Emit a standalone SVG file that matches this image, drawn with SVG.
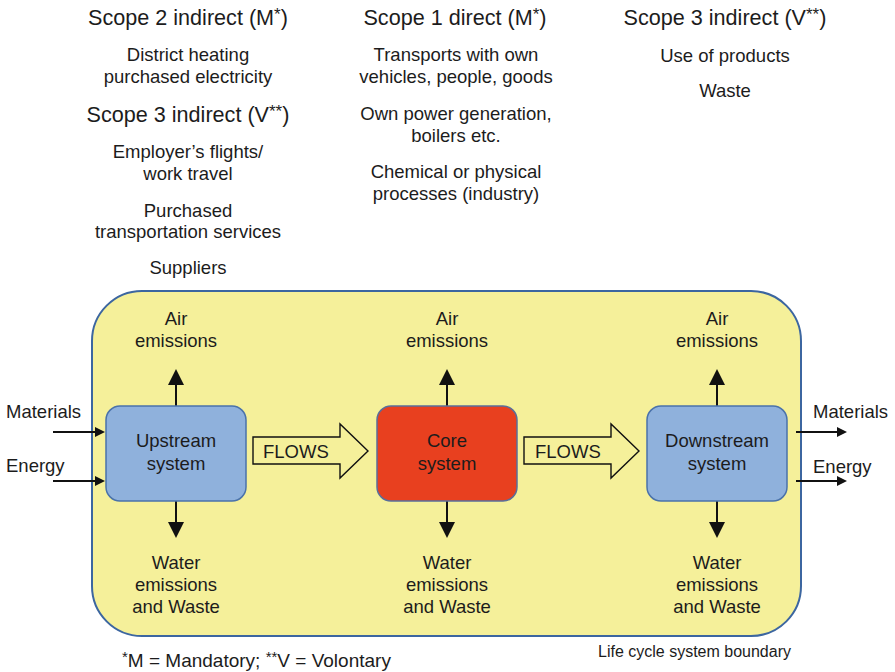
<svg xmlns="http://www.w3.org/2000/svg" width="895" height="672" viewBox="0 0 895 672">
<defs>
<style>
text{font-family:"Liberation Sans",Arial,sans-serif;fill:#1c1c1c}
.t{font-size:21.6px;text-anchor:middle}
.b{font-size:18.5px;text-anchor:middle}
.l{font-size:18.5px}
.sup{font-size:17px}
.sys{fill:#8fb1dc;stroke:#4a72aa;stroke-width:1.5}
.core{fill:#e8401f;stroke:#5a6e9a;stroke-width:1.5}
.flow{fill:#f5f09a;stroke:#111;stroke-width:1.4}
.ln{stroke:#111;stroke-width:2;fill:none}
</style>
<marker id="big" viewBox="0 0 16 16" refX="13" refY="8" markerWidth="16" markerHeight="16" markerUnits="userSpaceOnUse" orient="auto">
<path d="M0,0 L16,8 L0,16 z" fill="#111"/>
</marker>
<marker id="sm" viewBox="0 0 10 10" refX="8" refY="5" markerWidth="10" markerHeight="10" markerUnits="userSpaceOnUse" orient="auto">
<path d="M0,0 L10,5 L0,10 z" fill="#111"/>
</marker>
</defs>
<rect width="895" height="672" fill="#fff"/>

<g id="scope-texts">
<text class="t" x="188" y="25">Scope 2 indirect (M<tspan class="sup" dy="-5">*</tspan><tspan dy="5">)</tspan></text>
<text class="b" x="188" y="61">District heating</text>
<text class="b" x="188" y="83">purchased electricity</text>
<text class="t" x="188" y="122">Scope 3 indirect (V<tspan class="sup" dy="-5">**</tspan><tspan dy="5">)</tspan></text>
<text class="b" x="188" y="158">Employer’s flights/</text>
<text class="b" x="188" y="180">work travel</text>
<text class="b" x="188" y="217">Purchased</text>
<text class="b" x="188" y="238">transportation services</text>
<text class="b" x="188" y="274">Suppliers</text>

<text class="t" x="455" y="25">Scope 1 direct (M<tspan class="sup" dy="-5">*</tspan><tspan dy="5">)</tspan></text>
<text class="b" x="456" y="61">Transports with own</text>
<text class="b" x="456" y="83">vehicles, people, goods</text>
<text class="b" x="456" y="120">Own power generation,</text>
<text class="b" x="456" y="142">boilers etc.</text>
<text class="b" x="456" y="178">Chemical or physical</text>
<text class="b" x="456" y="200">processes (industry)</text>

<text class="t" x="725" y="25">Scope 3 indirect (V<tspan class="sup" dy="-5">**</tspan><tspan dy="5">)</tspan></text>
<text class="b" x="725" y="62">Use of products</text>
<text class="b" x="725" y="97">Waste</text>
</g>

<g id="boundary">
<rect x="92" y="291" width="709" height="345" rx="50" fill="#f5f09a" stroke="#3c66a0" stroke-width="2"/>
</g>

<g id="connectors">
<line class="ln" x1="176" y1="406" x2="176" y2="372" marker-end="url(#big)"/>
<line class="ln" x1="176" y1="501" x2="176" y2="535" marker-end="url(#big)"/>
<line class="ln" x1="447" y1="406" x2="447" y2="372" marker-end="url(#big)"/>
<line class="ln" x1="447" y1="501" x2="447" y2="535" marker-end="url(#big)"/>
<line class="ln" x1="717" y1="406" x2="717" y2="372" marker-end="url(#big)"/>
<line class="ln" x1="717" y1="501" x2="717" y2="535" marker-end="url(#big)"/>
<line class="ln" x1="53" y1="432" x2="103" y2="432" stroke-width="1.5" marker-end="url(#sm)"/>
<line class="ln" x1="53" y1="481" x2="103" y2="481" stroke-width="1.5" marker-end="url(#sm)"/>
<line class="ln" x1="796" y1="432" x2="845" y2="432" stroke-width="1.5" marker-end="url(#sm)"/>
<line class="ln" x1="796" y1="481" x2="845" y2="481" stroke-width="1.5" marker-end="url(#sm)"/>
<g id="flows1">
<polygon class="flow" points="253,437 340,437 340,424 368,451 340,478 340,464 253,464"/>
<text class="l" x="263" y="458">FLOWS</text>
</g>
<g id="flows2">
<polygon class="flow" points="524,437 611,437 611,424 639,451 611,478 611,464 524,464"/>
<text class="l" x="535" y="458">FLOWS</text>
</g>
</g>

<g id="upstream">
<rect class="sys" x="106" y="406" width="140" height="95" rx="14"/>
<text class="b" x="176" y="447">Upstream</text>
<text class="b" x="176" y="470">system</text>
</g>
<g id="core">
<rect class="core" x="377" y="406" width="140" height="95" rx="14"/>
<text class="b" x="447" y="447">Core</text>
<text class="b" x="447" y="470">system</text>
</g>
<g id="downstream">
<rect class="sys" x="647" y="406" width="140" height="95" rx="14"/>
<text class="b" x="717" y="447">Downstream</text>
<text class="b" x="717" y="470">system</text>
</g>

<g id="labels">
<text class="b" x="176" y="325">Air</text>
<text class="b" x="176" y="347">emissions</text>
<text class="b" x="447" y="325">Air</text>
<text class="b" x="447" y="347">emissions</text>
<text class="b" x="717" y="325">Air</text>
<text class="b" x="717" y="347">emissions</text>
<text class="b" x="176" y="569">Water</text>
<text class="b" x="176" y="591">emissions</text>
<text class="b" x="176" y="613">and Waste</text>
<text class="b" x="447" y="569">Water</text>
<text class="b" x="447" y="591">emissions</text>
<text class="b" x="447" y="613">and Waste</text>
<text class="b" x="717" y="569">Water</text>
<text class="b" x="717" y="591">emissions</text>
<text class="b" x="717" y="613">and Waste</text>
<text class="l" x="6" y="418">Materials</text>
<text class="l" x="6" y="472">Energy</text>
<text class="l" x="813" y="418">Materials</text>
<text class="l" x="813" y="473">Energy</text>
<text x="598" y="657" font-size="16px">Life cycle system boundary</text>
<text x="122" y="667" font-size="19px"><tspan font-size="15px" dy="-5">*</tspan><tspan dy="5">M = Mandatory; </tspan><tspan font-size="15px" dy="-5">**</tspan><tspan dy="5">V = Volontary</tspan></text>
</g>
</svg>
